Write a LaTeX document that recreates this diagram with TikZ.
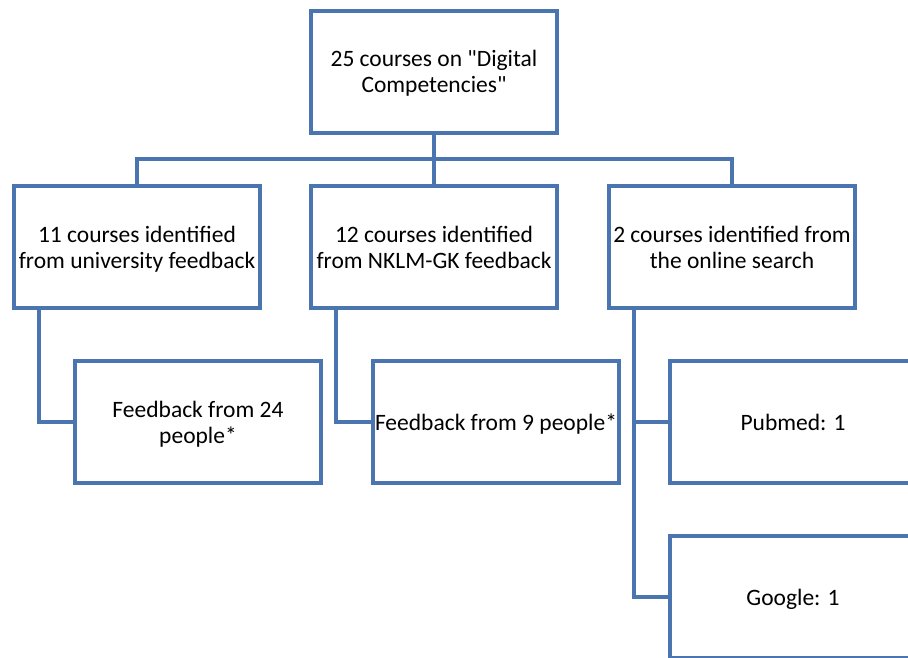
\documentclass[tikz,border=0pt]{standalone}
\usepackage{fontspec}
\setmainfont{Carlito}[Ligatures=TeXOff]
\usetikzlibrary{calc}
\definecolor{orgblue}{RGB}{74,117,176}
\newcommand{\ostrut}{\rule[-5pt]{0pt}{26pt}}
\tikzset{
  orgbox/.style={draw=orgblue, line width=4pt, fill=white, minimum width=246pt,
    minimum height=122pt, align=center, inner sep=2pt,
    font=\fontsize{23.5}{26}\selectfont},
  orgline/.style={draw=orgblue, line width=4pt}
}

\begin{document}
\begin{tikzpicture}[x=1pt, y=-1pt]
			%%%%% START %%%%%
			\useasboundingbox (0, 0) rectangle (908, 658);
			\clip (0, 0) rectangle (908, 658);
			
			% top level
			\node[orgbox] (total) at (434, 72) {\ostrut 25 courses on "Digital\\\ostrut Competencies"};
			\coordinate (bus) at (434, 159);
			
			% second level
			\node[orgbox] (uni) at (137, 247) {\ostrut 11 courses identified\\\ostrut from university feedback};
			\node[orgbox] (nklm) at (434, 247) {\ostrut 12 courses identified\\\ostrut from NKLM-GK feedback};
			\node[orgbox] (online) at (732, 247) {\ostrut 2 courses identified from\\\ostrut the online search};
			
			\draw[orgline] (total.south) -- (bus);
			\draw[orgline] (uni.north) |- (bus) -| (online.north);
			\draw[orgline] (bus) -- (nklm.north);
			
			% third level
			\node[orgbox] (ppl24) at (198, 422) {\ostrut Feedback from 24\\\ostrut people*};
			\node[orgbox] (ppl9) at (496, 422) {\ostrut Feedback from 9 people*};
			\node[orgbox] (pubmed) at (793, 422) {\ostrut Pubmed: 1};
			\node[orgbox] (google) at (793, 597) {\ostrut Google: 1};
			
			\coordinate (unileg) at ([xshift=-98.5pt]uni.south);
			\coordinate (nklmleg) at ([xshift=-98pt]nklm.south);
			\coordinate (onlineleg) at ([xshift=-98pt]online.south);
			
			\draw[orgline] (unileg) |- (ppl24.west);
			\draw[orgline] (nklmleg) |- (ppl9.west);
			\draw[orgline] (onlineleg) |- (pubmed.west);
			\draw[orgline] (onlineleg) |- (google.west);
			%%%%% END %%%%%
\end{tikzpicture}
\end{document}
